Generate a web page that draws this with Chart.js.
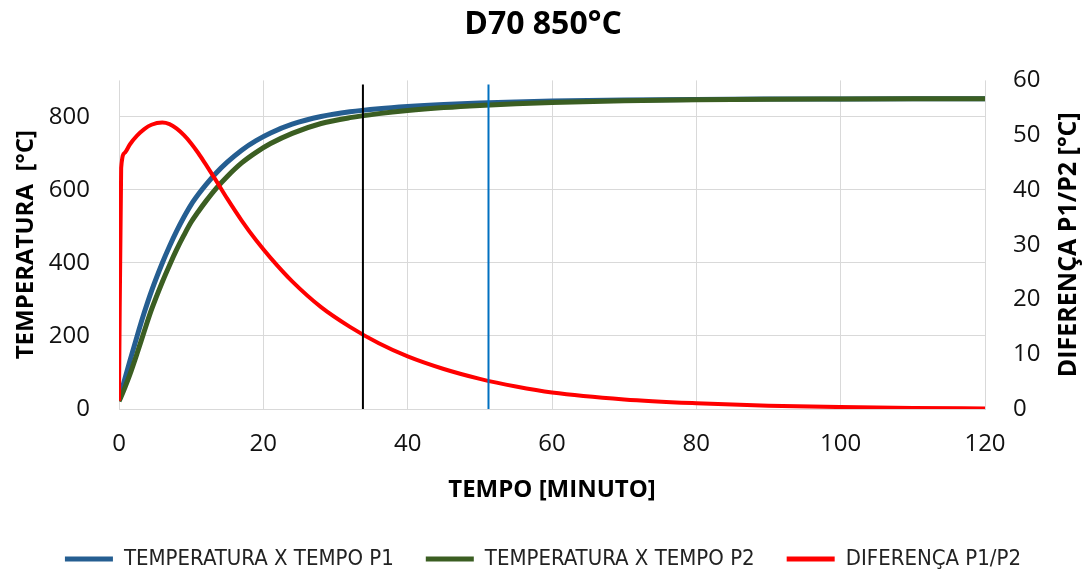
<!DOCTYPE html>
<html>
<head>
<meta charset="utf-8">
<title>D70 850°C</title>
<script src="https://cdn.jsdelivr.net/npm/chart.js@4/dist/chart.umd.min.js"></script>
<style>
    html, body { margin: 0; padding: 0; background: #ffffff; }
    #wrap { width: 1086px; height: 572px; }
</style>
</head>
<body>
<div id="wrap"><canvas id="curveChart" width="1086" height="572"></canvas></div>
<script>
// time in minutes
const tempo = [0, 0.3, 0.8, 1.5, 2.5, 3.5, 4.5, 6, 7, 8, 9, 10, 11, 12, 13.5, 15, 17, 19, 21, 24,
    28, 32, 36, 40, 45, 50, 55, 60, 70, 80, 90, 100, 110, 120];

// temperature at P1 and P2 [°C]
const tempP1 = [24, 46, 82, 131, 199, 264, 323, 400, 446, 488, 526, 560, 588, 613, 647, 676, 709, 735, 756, 780,
    801, 814, 822.5, 828.5, 834, 838, 841, 843.5, 846.5, 848, 848.8, 849.3, 849.6, 849.8];
const tempP2 = [21, 34, 58, 94, 152, 213, 272, 348, 394, 437, 476, 512, 541, 568, 605, 637, 674, 703, 727, 755,
    782, 798, 809, 817.5, 825.5, 831.5, 836, 839.5, 844.2, 846.8, 848.2, 849, 849.5, 849.8];

// difference P1 - P2 [°C], right axis
const diferenca = [1.5, 44, 46.8, 48.3, 49.9, 51.1, 51.9, 52.3, 52.0, 51.2, 50.0, 48.5, 46.7, 44.7, 41.6, 38.4, 34.4, 30.8, 27.6, 23.3,
    18.6, 15.0, 12.0, 9.6, 7.3, 5.5, 4.1, 3.0, 1.75, 1.05, 0.6, 0.35, 0.2, 0.1];

// reference times marked with vertical lines
const marcas = [33.8, 51.2];
const marcaTopo = 889;

const xTicks = [0, 20, 40, 60, 80, 100, 120];
const yTicks = [0, 200, 400, 600, 800];

const pts = (ys) => tempo.map((t, i) => ({ x: t, y: ys[i] }));
const vline = (t) => [{ x: t, y: 0 }, { x: t, y: marcaTopo }];

const baseFont = "'Open Sans', 'Liberation Sans', sans-serif";
const legendFont = "'Liberation Sans Narrow', 'DejaVu Sans Condensed', 'Liberation Sans', sans-serif";
const gridColor = '#d9d9d9';
const tituloDireito = 'DIFERENÇA P1/P2 [°C]';

// right axis title, written bottom-to-top like the left one
const rightTitle = {
    id: 'rightTitle',
    afterDraw(chart) {
        const s = chart.scales.y1;
        const area = chart.chartArea;
        const c = chart.ctx;
        c.save();
        c.translate(s.right - 17, (area.top + area.bottom) / 2);
        c.rotate(-Math.PI / 2);
        c.font = "bold 25px " + baseFont;
        c.fillStyle = '#000000';
        c.textAlign = 'center';
        c.textBaseline = 'middle';
        c.fillText(tituloDireito, 0, 0);
        c.restore();
    }
};

const ctx = document.getElementById('curveChart').getContext('2d');

new Chart(ctx, {
    type: 'line',
    data: {
        datasets: [
            {
                label: 'TEMPERATURA X TEMPO P1',
                data: pts(tempP1),
                borderColor: '#255e91',
                backgroundColor: '#255e91',
                borderWidth: 5,
                yAxisID: 'y',
                order: 5
            },
            {
                label: 'TEMPERATURA X TEMPO P2',
                data: pts(tempP2),
                borderColor: '#3b5e22',
                backgroundColor: '#3b5e22',
                borderWidth: 5,
                yAxisID: 'y',
                order: 4
            },
            {
                label: 'DIFERENÇA P1/P2',
                data: pts(diferenca),
                borderColor: '#ff0000',
                backgroundColor: '#ff0000',
                borderWidth: 4,
                yAxisID: 'y1',
                order: 3
            },
            {
                label: 'marca1',
                data: vline(marcas[0]),
                borderColor: '#000000',
                borderWidth: 2,
                yAxisID: 'y',
                order: 2
            },
            {
                label: 'marca2',
                data: vline(marcas[1]),
                borderColor: '#0070c0',
                borderWidth: 2,
                yAxisID: 'y',
                order: 1
            }
        ]
    },
    options: {
        responsive: false,
        animation: false,
        elements: {
            point: { radius: 0, hoverRadius: 0 },
            line: { cubicInterpolationMode: 'monotone', fill: false }
        },
        layout: { padding: { left: 0, right: 0, top: 0, bottom: -8 } },
        plugins: {
            tooltip: { enabled: false },
            title: {
                display: true,
                text: 'D70 850°C',
                color: '#000000',
                font: { family: baseFont, size: 32, weight: 'bold' },
                padding: { top: 6, bottom: 36 }
            },
            legend: {
                position: 'bottom',
                labels: {
                    color: '#222222',
                    font: { family: legendFont, size: 22 },
                    boxWidth: 48,
                    boxHeight: 5,
                    padding: 32,
                    filter: (item) => item.datasetIndex < 3,
                    sort: (a, b) => a.datasetIndex - b.datasetIndex,
                    generateLabels: (chart) => {
                        const items = Chart.defaults.plugins.legend.labels.generateLabels(chart);
                        items.forEach((it) => { it.lineWidth = 0; });
                        return items;
                    }
                }
            }
        },
        scales: {
            x: {
                type: 'linear',
                min: 0,
                max: 120,
                afterBuildTicks: (scale) => { scale.ticks = xTicks.map((v) => ({ value: v })); },
                afterFit: (scale) => { scale.height = 107; },
                grid: { color: gridColor, drawTicks: false },
                border: { color: gridColor },
                ticks: {
                    color: '#111111',
                    font: { family: baseFont, size: 24 },
                    padding: 21,
                    maxRotation: 0
                },
                title: {
                    display: true,
                    text: 'TEMPO [MINUTO]',
                    color: '#000000',
                    font: { family: baseFont, size: 24, weight: 'bold' },
                    padding: { top: 0, bottom: 11 }
                }
            },
            y: {
                position: 'left',
                min: 0,
                max: 900,
                afterBuildTicks: (scale) => { scale.ticks = yTicks.map((v) => ({ value: v })); },
                afterFit: (scale) => { scale.width = 119; },
                grid: { color: gridColor, drawTicks: false },
                border: { display: false },
                ticks: {
                    color: '#111111',
                    font: { family: baseFont, size: 24 },
                    padding: 29
                },
                title: {
                    display: true,
                    text: 'TEMPERATURA  [°C]',
                    color: '#000000',
                    font: { family: baseFont, size: 24, weight: 'bold' },
                    padding: { top: 12, bottom: 0 }
                }
            },
            y1: {
                position: 'right',
                min: 0,
                max: 60,
                afterFit: (scale) => { scale.width = 101; },
                grid: { display: false, drawTicks: false },
                border: { display: false },
                ticks: {
                    stepSize: 10,
                    color: '#111111',
                    font: { family: baseFont, size: 24 },
                    padding: 28
                },
                title: { display: false }
            }
        }
    },
    plugins: [rightTitle]
});
</script>
</body>
</html>
